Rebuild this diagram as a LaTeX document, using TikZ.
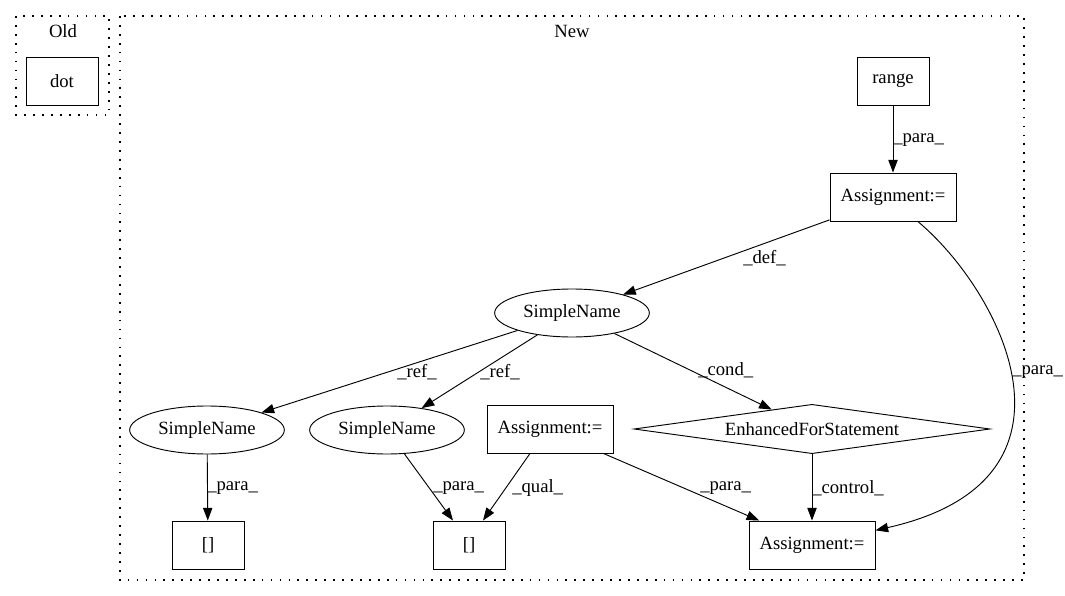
\documentclass[tikz,border=0pt]{standalone}
\usepackage{fontspec}
\setmainfont{Liberation Serif}
\usetikzlibrary{arrows.meta,shapes.geometric}

\begin{document}
\begin{tikzpicture}[x=0.75pt,y=-0.75pt,
    font=\fontsize{14}{16}\selectfont,
    box/.style={draw,line width=0.7pt,minimum width=54pt,minimum height=36pt,inner sep=0pt},
    widebox/.style={box,minimum width=94.5pt},
    oval/.style={draw,line width=0.7pt,ellipse,minimum width=116pt,minimum height=36pt,inner sep=0pt},
    choice/.style={draw,line width=0.7pt,diamond,aspect=7.2,minimum width=267pt,minimum height=37pt,inner sep=0pt},
    cluster/.style={line width=0.9pt,dash pattern=on 1.3pt off 5.4pt},
    edge/.style={line width=0.7pt,-{Triangle[length=9.5pt,width=7pt]}},
    lbl/.style={anchor=west,inner sep=0pt}]
    \useasboundingbox (0,0) rectangle (1065,596);

    % Draw the two clusters
    \draw[cluster] (16,16) rectangle (109,115);
    \draw[cluster] (120,16) rectangle (1024,580);
    \node (old) at (63,31) {Old};
    \node (new) at (572,31) {New};

    % Draw the nodes
    \node[box] (dot) at (62,81) {dot};
    \node[box] (range) at (893,81) {range};
    \node[widebox] (atop) at (893,197) {Assignment:=};
    \node[oval] (snroot) at (572,313) {SimpleName};
    \node[oval] (snleft) at (207,430) {SimpleName};
    \node[oval] (snmid) at (387,430) {SimpleName};
    \node[widebox] (amid) at (550,429) {Assignment:=};
    \node[choice] (efor) at (812,429) {EnhancedForStatement};
    \node[box] (brleft) at (208,545) {[]};
    \node[box] (brmid) at (469,545) {[]};
    \node[widebox] (abot) at (812,545) {Assignment:=};

    % Draw the edges
    \draw[edge] (range) -- (atop);
    \draw[edge] (atop) -- (snroot);
    \draw[edge] ([xshift=-29pt]atop.south east) .. controls (1000,290) and (1100,480) .. ([yshift=11pt]abot.east);
    \draw[edge] (snroot) -- (snleft);
    \draw[edge] (snroot) -- (snmid);
    \draw[edge] (snroot) -- (efor);
    \draw[edge] (snleft) -- (brleft);
    \draw[edge] (snmid) -- ([xshift=-12pt]brmid.north);
    \draw[edge] ([xshift=-15pt]amid.south) -- ([xshift=10.5pt]brmid.north);
    \draw[edge] ([xshift=-7.5pt]amid.south east) -- ([xshift=8pt]abot.north west);
    \draw[edge] (efor) -- (abot);

    % Draw the edge labels
    \node[lbl] at (893,140) {\_para\_};
    \node[lbl] at (743,258) {\_def\_};
    \node[lbl] at (1012,372) {\_para\_};
    \node[lbl] at (397,372) {\_ref\_};
    \node[lbl] at (480,372) {\_ref\_};
    \node[lbl] at (698,370) {\_cond\_};
    \node[lbl] at (207,488) {\_para\_};
    \node[lbl] at (433,488) {\_para\_};
    \node[lbl] at (512,488) {\_qual\_};
    \node[lbl] at (700,488) {\_para\_};
    \node[lbl] at (812,488) {\_control\_};
\end{tikzpicture}
\end{document}
